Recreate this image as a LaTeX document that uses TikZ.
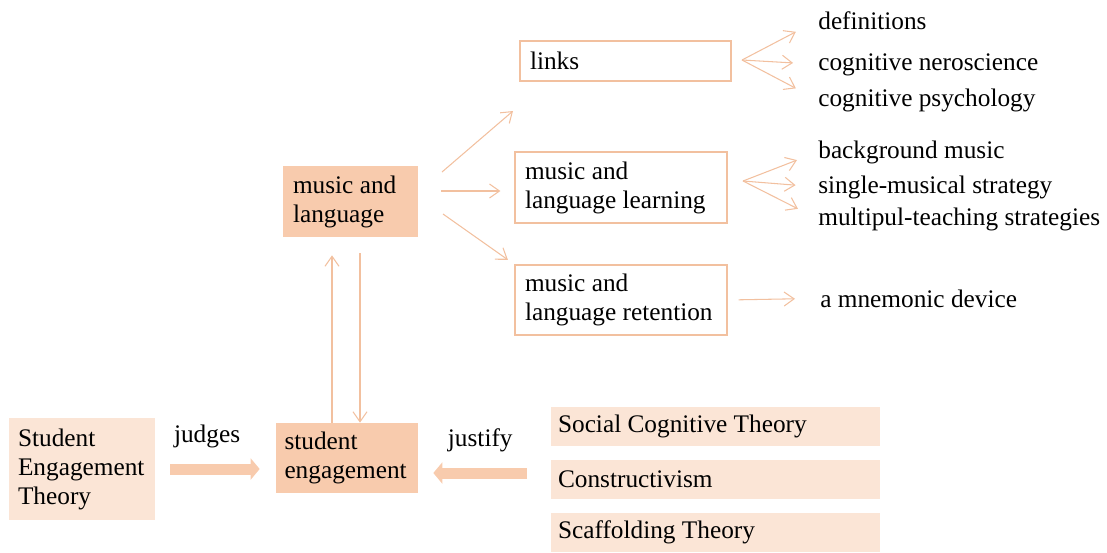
\documentclass[tikz,border=0pt]{standalone}
\usepackage{fontspec}
\setmainfont{Liberation Serif}
\usepackage{tikz}
\usetikzlibrary{arrows.meta,positioning,calc}
\definecolor{peachfill}{HTML}{F8CBAD}
\definecolor{palefill}{HTML}{FBE5D6}
\definecolor{lineorange}{HTML}{F2C09F}
\tikzstyle{openbox} = [draw=lineorange, line width=0.7pt, fill=white,
    inner xsep=0.2cm, inner ysep=0pt, align=flush left]
\tikzstyle{darkbox} = [fill=peachfill, inner xsep=0.2cm, inner ysep=0pt, align=flush left]
\tikzstyle{lightbox} = [fill=palefill, inner xsep=0.2cm, inner ysep=0pt, align=flush left]
\tikzstyle{leaf} = [anchor=base west, inner sep=0pt]
\tikzstyle{link} = [draw=lineorange, line width=0.6pt,
    -{Straight Barb[length=2mm,width=2.8mm]}]
\tikzstyle{fat} = [draw=peachfill, line width=0.22cm,
    -{Triangle[length=0.18cm,width=0.42cm]}]

\begin{document}
\begin{tikzpicture}[x=0.02cm, y=-0.02cm, font=\fontsize{14.4}{16.5}\selectfont]
		\useasboundingbox (0,0) rectangle (1107,552);

		% centre
		\node[darkbox, minimum width=2.7cm, minimum height=1.42cm, text width=2.3cm] (music) at (350.5,201.5) {music and\\language};
		\node[darkbox, inner xsep=0.17cm, minimum width=2.84cm, minimum height=1.4cm, text width=2.5cm] (engage) at (347,458) {student\\engagement};
		\node[lightbox, inner xsep=0.18cm, minimum width=2.92cm, minimum height=2.04cm, text width=2.56cm] (theory) at (82,469) {Student\\Engagement\\Theory};

		% three topics
		\node[openbox, minimum width=4.22cm, minimum height=0.8cm, text width=3.82cm] (links) at (625.5,61) {links};
		\node[openbox, minimum width=4.24cm, minimum height=1.42cm, text width=3.84cm] (learn) at (621,187.5) {music and\\language learning};
		\node[openbox, minimum width=4.24cm, minimum height=1.4cm, text width=3.84cm] (retain) at (621,300) {music and\\language retention};

		% right hand items
		\node[leaf] (defs) at (818,29) {definitions};
		\node[leaf] (neuro) at (818,70) {cognitive neroscience};
		\node[leaf] (psych) at (818,106) {cognitive psychology};
		\node[leaf] (bgmusic) at (818,158) {background music};
		\node[leaf] (single) at (818,193) {single-musical strategy};
		\node[leaf] (multi) at (818,225) {multipul-teaching strategies};
		\node[leaf] (mnemo) at (820,307) {a mnemonic device};

		% theories
		\node[lightbox, inner xsep=0.14cm, minimum width=6.58cm, minimum height=0.78cm, text width=6.3cm] (social) at (715.5,426.5) {Social Cognitive Theory};
		\node[lightbox, inner xsep=0.14cm, minimum width=6.58cm, minimum height=0.78cm, text width=6.3cm] (constr) at (715.5,479.5) {Constructivism};
		\node[lightbox, inner xsep=0.14cm, minimum width=6.58cm, minimum height=0.78cm, text width=6.3cm] (scaff) at (715.5,532.5) {Scaffolding Theory};

		\coordinate (ml up) at (442,172);
		\coordinate (ml mid) at (441,191);
		\coordinate (ml low) at (443,214);
		\coordinate (ml up end) at (513,111);
		\coordinate (links fan) at (742,60);
		\coordinate (learn fan) at (743,181);
		\coordinate (justify tail) at (527,473);

		\draw[link] (ml up) -- (ml up end);
		\draw[link, shorten >=0.28cm] (ml mid) -- (ml mid -| learn.west);
		\draw[link, shorten >=0.16cm] (ml low) -- (retain.north west);

		\foreach \leafname in {defs,neuro,psych}
			\draw[link, shorten >=0.5cm] (links fan) -- (\leafname.west);
		\foreach \leafname in {bgmusic,single,multi}
			\draw[link, shorten >=0.45cm] (learn fan) -- (\leafname.west);
		\draw[link, shorten <=0.22cm, shorten >=0.5cm] (retain.east) -- (mnemo.west);

		\draw[link, shorten >=0.36cm] ([xshift=-0.3cm]engage.north) -- ([xshift=-0.3cm]engage.north |- music.south);
		\draw[link, shorten <=0.32cm] ([xshift=0.19cm]music.south) -- ([xshift=0.19cm]music.south |- engage.north);

		\draw[fat, shorten <=0.3cm, shorten >=0.32cm] (theory.east) -- node[above=0.2cm, pos=0.43] {judges} (theory.east -| engage.west);
		\draw[fat, shorten >=0.3cm] (justify tail) -- node[above=0.2cm, pos=0.43] {justify} (justify tail -| engage.east);
	\end{tikzpicture}
\end{document}
